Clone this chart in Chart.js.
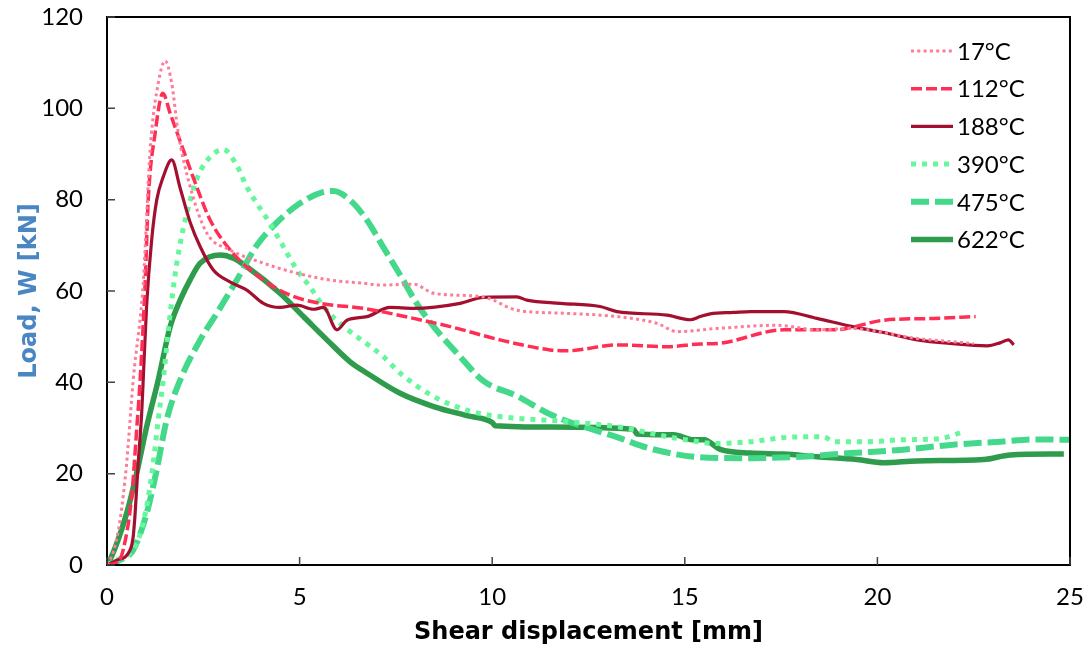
<!DOCTYPE html>
<html lang="en">
<head>
    <meta charset="UTF-8">
    <title>Load vs shear displacement</title>
    <script src="https://cdn.jsdelivr.net/npm/chart.js"></script>
    <style>
        html, body { margin: 0; padding: 0; background: #fff; }
    </style>
</head>
<body>
    <canvas id="loadChart" width="1087" height="648"></canvas>
    <script>
        // values (x = shear displacement mm, y = load kN)
        const xTicks = [0, 5, 10, 15, 20, 25];
        const yTicks = [0, 20, 40, 60, 80, 100, 120];
        const labels = ['17°C', '112°C', '188°C', '390°C', '475°C', '622°C'];

        const x17 = [0, 0.17, 0.34, 0.51, 0.68, 0.94, 1.12, 1.33, 1.51, 1.68, 1.85, 2.16, 2.59, 3.19, 4.06, 4.93, 5.79, 6.66, 7.09, 7.96, 8.48, 9.77, 10.64, 11.94, 13.24, 14.28, 14.8, 15.84, 17.4, 18.43, 19.3, 21.03, 22.5];
        const y17 = [0, 3, 9.9, 22.3, 40.5, 61.7, 90.9, 105.5, 110.4, 105.5, 94.6, 82.8, 72.7, 69, 66.1, 63.9, 62.4, 61.7, 61.3, 61.5, 59.5, 58.7, 55.8, 55.1, 54.4, 52.9, 51.1, 51.8, 52.5, 51.5, 51.8, 49.6, 48.5];

        const x112 = [0, 0.29, 0.42, 0.64, 0.77, 0.86, 0.99, 1.07, 1.25, 1.45, 1.64, 1.98, 2.33, 2.68, 3.28, 4.06, 4.75, 5.53, 6.66, 7.96, 8.91, 10.2, 11.5, 11.94, 13.24, 14.54, 15.4, 15.84, 17.57, 18.87, 20.16, 21.46, 22.55];
        const y112 = [0, 0.7, 3.3, 15, 29.6, 40.5, 61.7, 79.9, 94.6, 103.3, 98.9, 90.9, 82.8, 75.5, 68.2, 62.4, 59.1, 57.3, 56.2, 54, 52.2, 49.3, 47.1, 46.9, 48.2, 47.8, 48.4, 48.5, 51.5, 51.5, 53.6, 54, 54.4];

        const x188 = [0, 0.25, 0.6, 0.68, 0.73, 0.81, 0.9, 0.94, 1.03, 1.16, 1.29, 1.46, 1.68, 1.9, 2.16, 2.42, 2.76, 3.19, 3.63, 4.06, 4.49, 4.93, 5.36, 5.62, 5.97, 6.23, 6.75, 7.35, 7.96, 9.17, 9.77, 10.64, 10.9, 11.77, 12.8, 13.24, 14.54, 15.14, 15.4, 15.66, 16.27, 16.7, 17.57, 18.43, 19.3, 20.16, 21.03, 21.9, 22.85, 23.2, 23.4, 23.54];
        const y188 = [0, 1, 3.3, 6.2, 11.3, 22.3, 33.2, 40.5, 57, 71.2, 79.9, 85, 88.7, 82.5, 75, 69.7, 64.6, 62, 60.2, 57.3, 56.4, 56.9, 56, 56.4, 51.5, 53.6, 54.4, 56.4, 56.2, 57.3, 58.6, 58.7, 58, 57.3, 56.6, 55.5, 54.7, 53.7, 54.4, 55, 55.3, 55.5, 55.5, 54, 52.3, 50.9, 49.3, 48.5, 48, 48.7, 49.3, 48.2];

        const x390 = [0, 0.25, 0.77, 1.03, 1.2, 1.33, 1.46, 1.6, 1.81, 2.07, 2.33, 2.59, 3.02, 3.37, 3.63, 4.23, 4.58, 4.93, 5.27, 5.62, 6.05, 6.49, 7.18, 7.61, 8.48, 9.34, 10.2, 11.94, 13.24, 14.54, 14.97, 15.84, 16.7, 17.74, 18.6, 18.87, 19.74, 20.6, 21.64, 22.24];
        const y390 = [0, 1.1, 4.7, 12.8, 22.3, 31.8, 40.5, 52, 66, 77, 84.5, 88.5, 91, 87.5, 82.8, 74.8, 69.7, 64.6, 60.9, 56.6, 52.9, 50, 45.6, 42, 36.9, 33.9, 32.5, 31.4, 30.3, 28.1, 27.5, 26.6, 27, 28, 28.1, 27, 27, 27.4, 27.7, 29.2];

        const x475 = [0, 0.34, 0.68, 1.03, 1.29, 1.55, 1.9, 2.42, 2.85, 3.37, 3.89, 4.41, 5.01, 5.62, 5.88, 6.31, 6.75, 7.18, 7.61, 8.04, 8.48, 9.17, 9.77, 10.64, 11.5, 12.37, 13.24, 14.1, 15.4, 16.7, 18, 19.3, 20.6, 21.9, 23.2, 24.06, 25];
        const y475 = [0, 1.1, 3.3, 11.3, 20.8, 31.8, 40.5, 49.3, 55.1, 62.4, 70, 75, 79.2, 81.7, 81.9, 79.9, 75.5, 69.5, 63.5, 57.3, 52.2, 45.6, 40.3, 37, 33, 30.3, 28, 25.5, 23.6, 23.4, 23.7, 24.5, 25.2, 26.3, 27, 27.5, 27.4];

        const x622 = [0, 0.08, 0.51, 0.77, 1.03, 1.33, 1.64, 1.9, 2.16, 2.42, 2.94, 3.28, 3.63, 4.49, 5.1, 5.71, 6.31, 6.75, 7.61, 8.48, 9.34, 10.0, 10.08, 11.5, 13.67, 13.76, 14.71, 15.23, 15.5, 15.92, 16.7, 17.57, 18.43, 19.47, 20.16, 21.03, 22.76, 23.45, 24.84];
        const y622 = [0, 1.1, 11.3, 20.1, 30.3, 40.5, 52.2, 58, 62.5, 66.1, 67.9, 67.2, 65.3, 59.5, 54.4, 49.3, 44.5, 42, 37.6, 34.7, 32.7, 31.2, 30.5, 30.2, 29.7, 28.7, 28.5, 27.4, 27.4, 25.3, 24.5, 24.3, 23.7, 23.1, 22.4, 22.8, 23.1, 24.1, 24.3];

        const pts = (xs, ys) => xs.map((x, i) => ({ x: x, y: ys[i] }));

        const FONT = 'Lato, "Open Sans", sans-serif';
        const TITLE_FONT = '"DejaVu Sans", sans-serif';

        // box round the plot + ticks pointing inwards, like the original
        const frame = {
            id: 'frame',
            afterDraw(chart) {
                const { ctx, chartArea: a, scales } = chart;
                ctx.save();
                ctx.strokeStyle = '#000';
                ctx.lineWidth = 2;
                ctx.setLineDash([]);
                ctx.strokeRect(a.left, a.top, a.right - a.left, a.bottom - a.top);
                ctx.lineWidth = 1.5;
                ctx.strokeStyle = '#444';
                ctx.beginPath();
                xTicks.forEach(v => {
                    const px = scales.x.getPixelForValue(v);
                    ctx.moveTo(px, a.bottom);
                    ctx.lineTo(px, a.bottom - 8);
                });
                yTicks.forEach(v => {
                    const py = scales.y.getPixelForValue(v);
                    ctx.moveTo(a.left, py);
                    ctx.lineTo(a.left + 8, py);
                });
                ctx.stroke();
                ctx.restore();
            }
        };

        // legend inside the plot, top right
        const insideLegend = {
            id: 'insideLegend',
            afterDraw(chart) {
                const ctx = chart.ctx;
                const x0 = 911, x1 = 953, top = 51, step = 37.7;
                ctx.save();
                chart.data.datasets.forEach((ds, i) => {
                    const y = top + i * step;
                    ctx.strokeStyle = ds.borderColor;
                    ctx.lineWidth = ds.borderWidth;
                    ctx.setLineDash(ds.borderDash || []);
                    ctx.beginPath();
                    ctx.moveTo(x0, y);
                    ctx.lineTo(x1, y);
                    ctx.stroke();
                    ctx.setLineDash([]);
                    ctx.fillStyle = '#000';
                    ctx.font = '24px ' + FONT;
                    ctx.textBaseline = 'middle';
                    ctx.fillText(ds.label, 957, y + 1);
                });
                ctx.restore();
            }
        };

        const ctx = document.getElementById('loadChart').getContext('2d');
        new Chart(ctx, {
            type: 'line',
            data: {
                datasets: [
                    { label: labels[0], data: pts(x17, y17), borderColor: '#ff7c98', borderWidth: 3, borderDash: [3, 3.3] },
                    { label: labels[1], data: pts(x112, y112), borderColor: '#ff2e55', borderWidth: 3.5, borderDash: [11, 4] },
                    { label: labels[2], data: pts(x188, y188), borderColor: '#a3102f', borderWidth: 3.2 },
                    { label: labels[3], data: pts(x390, y390), borderColor: '#66f79c', borderWidth: 5, borderDash: [5, 6] },
                    { label: labels[4], data: pts(x475, y475), borderColor: '#44d98a', borderWidth: 6, borderDash: [18, 6] },
                    { label: labels[5], data: pts(x622, y622), borderColor: '#2f9b4c', borderWidth: 5.5 }
                ]
            },
            options: {
                responsive: false,
                animation: false,
                devicePixelRatio: 1,
                layout: { padding: { top: 17, right: 17, left: 0, bottom: 0 } },
                elements: {
                    point: { radius: 0 },
                    line: { cubicInterpolationMode: 'monotone', borderCapStyle: 'butt', fill: false }
                },
                plugins: {
                    legend: { display: false },
                    tooltip: { enabled: false }
                },
                scales: {
                    x: {
                        type: 'linear',
                        min: 0,
                        max: 25,
                        afterBuildTicks: s => { s.ticks = xTicks.map(v => ({ value: v })); },
                        afterFit: s => { s.height = 83; s.paddingLeft = 0; s.paddingRight = 0; },
                        grid: { drawOnChartArea: false, drawTicks: false },
                        border: { display: false },
                        ticks: { color: '#000', font: { family: FONT, size: 24 }, padding: 18, maxRotation: 0 },
                        title: {
                            display: true,
                            text: 'Shear displacement [mm]',
                            color: '#000',
                            font: { family: TITLE_FONT, size: 24, weight: 'bold' },
                            padding: { top: 0, bottom: 1 }
                        }
                    },
                    y: {
                        min: 0,
                        max: 120,
                        afterBuildTicks: s => { s.ticks = yTicks.map(v => ({ value: v })); },
                        afterFit: s => { s.width = 107; s.paddingTop = 0; s.paddingBottom = 0; },
                        grid: { drawOnChartArea: false, drawTicks: false },
                        border: { display: false },
                        ticks: { color: '#000', font: { family: FONT, size: 24 }, padding: 24 },
                        title: {
                            display: true,
                            text: 'Load, W [kN]',
                            color: '#4a86c2',
                            font: { family: TITLE_FONT, size: 24, weight: 'bold' },
                            padding: { top: 15, bottom: 0 }
                        }
                    }
                }
            },
            plugins: [frame, insideLegend]
        });
    </script>
</body>
</html>
